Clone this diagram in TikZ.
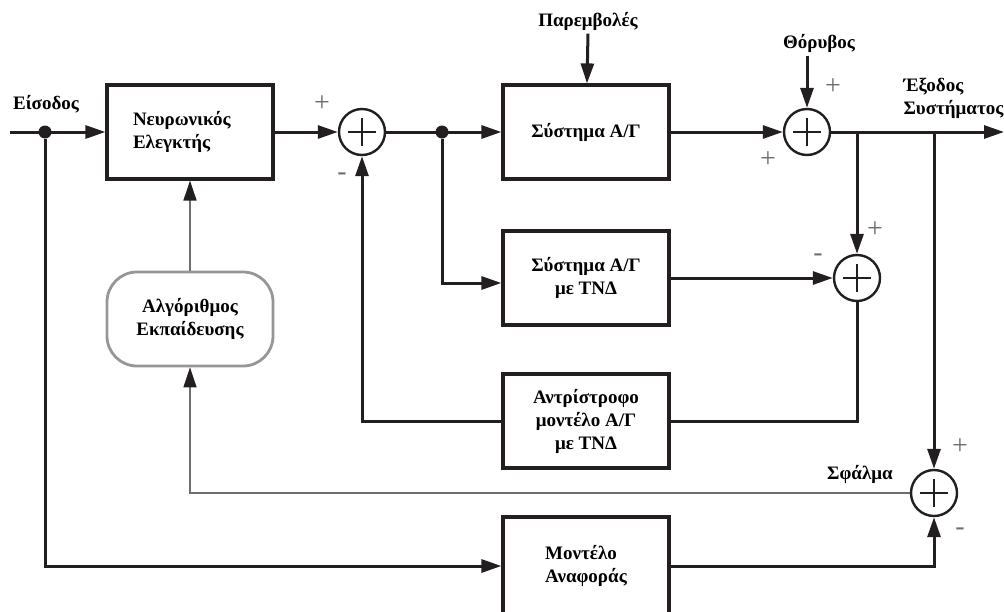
\documentclass[tikz,border=0pt]{standalone}
\usepackage{fontspec}
\setmainfont{Liberation Serif}
\usetikzlibrary{positioning,arrows.meta}

\definecolor{ink}{RGB}{35,31,32}
\definecolor{softline}{RGB}{110,110,110}
\definecolor{softframe}{RGB}{150,150,150}

\tikzset{
  block/.style={draw=ink, line width=3.2pt, minimum width=166pt, minimum height=94pt,
    font=\bfseries\fontsize{19}{23}\selectfont, align=center},
  trainbox/.style={block, draw=softframe, line width=2.8pt, rounded corners=30pt},
  sum/.style={draw=ink, circle, line width=2.4pt, minimum size=46pt, inner sep=0pt,
    path picture={
      \draw[ink, line width=2.6pt]
        ([xshift=-14pt]path picture bounding box.center) -- ([xshift=14pt]path picture bounding box.center)
        ([yshift=-14pt]path picture bounding box.center) -- ([yshift=14pt]path picture bounding box.center);}},
  dot/.style={circle, fill=ink, inner sep=0pt, minimum size=13pt},
  lbl/.style={font=\bfseries\fontsize{19}{23}\selectfont, align=left},
  sign/.style={text=softline, font=\fontsize{28}{28}\selectfont, inner sep=0pt},
  wire/.style={ink, line width=3pt},
  thinwire/.style={softline, line width=1.6pt},
}

\begin{document}
\begin{tikzpicture}[x=1pt, y=1pt, >={Triangle[length=20pt, width=13pt]}, on grid]
  \useasboundingbox (0,0) rectangle (1004,-611);

  % blocks and summing junctions
  \node[block, text width=114pt, align=left] (ctrl) at (190,-132) {Νευρωνικός\\Ελεγκτής};
  \node[sum]   (sum1) [right=172pt of ctrl] {};
  \node[block] (sys)  [right=396pt of ctrl] {Σύστημα Α/Γ};
  \node[sum]   (sum2) [right=221pt of sys] {};
  \node[block] (tnd)  [below=146pt of sys] {Σύστημα Α/Γ\\με ΤΝΔ};
  \node[sum]   (sum3) [right=271pt of tnd] {};
  \node[block] (inv)  [below=289pt of sys] {Αντρίστροφο\\μοντέλο Α/Γ\\με ΤΝΔ};
  \node[block, minimum height=98pt, align=left] (ref) [below=434pt of sys] {Μοντέλο\\Αναφοράς};
  \node[trainbox] (train) [below=187pt of ctrl] {Αλγόριθμος\\Εκπαίδευσης};
  \node[sum]   (sum4) at (934,-493) {};

  % branch points and free ends
  \coordinate (in)  at (10,-132);
  \coordinate (out) at (1004,-132);
  \node[dot] (d1) at (45,-132) {};
  \node[dot] (d2) at (442,-132) {};
  \coordinate (b1) at (sum2.east -| sum3);
  \coordinate (b2) at (934,-132);
  \coordinate (tndin) at (442,-283);

  % outer signals
  \node[lbl] (input) at (46,-104) {Είσοδος};
  \node[lbl] (dist)  at (588,-21) {Παρεμβολές};
  \node[lbl] (noise) at (819,-43) {Θόρυβος};
  \node[lbl, anchor=west] (output) at (900,-98) {Έξοδος\\Συστήματος};
  \node[lbl] (err) at (860,-474) {Σφάλμα};

  % forward path
  \draw[wire, ->] (in) -- (ctrl);
  \draw[wire, ->] (ctrl) -- (sum1);
  \draw[wire, ->] (sum1) -- (sys);
  \draw[wire, ->] (sys) -- (sum2);
  \draw[wire, ->] (sum2) -- (out);
  \draw[wire, ->] (dist.south) -- (sys);
  \draw[wire, ->] (noise.south -| sum2) -- (sum2);

  % model branch and inverse loop
  \draw[wire, ->] (d2) |- (tnd.west |- tndin);
  \draw[wire, ->] (tnd) -- (sum3);
  \draw[wire, ->] (b1) -- (sum3);
  \draw[wire] (sum3) |- (inv.east);
  \draw[wire, ->] (inv.west) -| (sum1.south);

  % reference model and error
  \draw[wire, ->] (d1) |- (ref.west);
  \draw[wire, ->] (ref.east) -| (sum4.south);
  \draw[wire, ->] (b2) -- (sum4);
  \draw[thinwire, -{Triangle[length=20pt, width=13pt, ink]}] (sum4.west) -| (train.south);
  \draw[thinwire, -{Triangle[length=20pt, width=13pt, ink]}] (train.north) -- (ctrl.south);

  % signs
  \node[sign] (p1) at (322,-104) {+};
  \node[sign] (m1) at (342,-177) {-};
  \node[sign] (p2) at (833,-87) {+};
  \node[sign] (p3) at (768,-160) {+};
  \node[sign] (p4) at (875,-230) {+};
  \node[sign] (m4) at (818,-258) {-};
  \node[sign] (p5) at (960,-447) {+};
  \node[sign] (m5) at (960,-532) {-};
\end{tikzpicture}
\end{document}
